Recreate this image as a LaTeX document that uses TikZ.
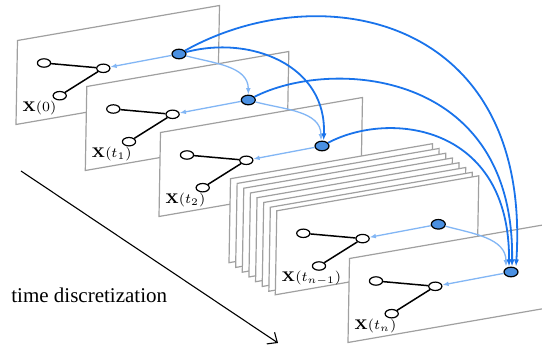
\documentclass[tikz,border=0pt]{standalone}
\usepackage[no-math]{fontspec}
\newfontfamily\timesfont{Liberation Serif}
\usetikzlibrary{arrows.meta,shapes.geometric}
\definecolor{panelgray}{RGB}{160,160,160}
\definecolor{nodeblue}{RGB}{74,144,226}
\definecolor{darkarc}{RGB}{25,115,235}
\definecolor{lightarc}{RGB}{130,182,245}
\tikzset{
 panel/.style={draw=panelgray, line width=0.6pt, fill=white, line join=miter},
 wnode/.style={ellipse, draw=black, fill=white, line width=0.6pt, minimum width=6.6pt, minimum height=4.2pt, inner sep=0pt},
 bnode/.style={ellipse, draw=black, fill=nodeblue, line width=0.6pt, minimum width=7pt, minimum height=4.8pt, inner sep=0pt},
 gedge/.style={line width=0.75pt, draw=black},
 lightarrow/.style={draw=lightarc, line width=0.65pt, -{Latex[length=3.2pt,width=2.4pt]}},
 darkarrow/.style={draw=darkarc, line width=0.9pt, -{Latex[length=3.6pt,width=2.6pt]}},
 lbl/.style={font=\fontsize{7.5}{9}\selectfont, inner sep=0pt, anchor=west},
 timearrow/.style={line width=0.55pt, draw=black, -{Straight Barb[length=4pt,width=7pt]}}
}
\newcommand{\drawpanel}[4]{%
 \begin{scope}[shift={(#2,-#3)}]
  \draw[panel] (0,0) -- (202,35) -- (200.5,-49) -- (-1.5,-84) -- cycle;
  \node[wnode] (a#1) at (26.5,-22.5) {};
  \node[wnode] (b#1) at (85.8,-27.8) {};
  \node[wnode] (c#1) at (42.2,-55.2) {};
  \node[bnode] (d#1) at (161.5,-13.5) {};
  \draw[gedge] (a#1) -- (b#1);
  \draw[gedge] (b#1) -- (c#1);
  \node[lbl] (l#1) at (4.5,-67.5) {$\mathbf{X}(#4)$};
 \end{scope}}
\begin{document}
\begin{tikzpicture}[x=0.5pt,y=0.5pt]
\useasboundingbox (0,0) rectangle (542,-347);
\clip (0,0) rectangle (542,-347);
\drawpanel{0}{17.5}{40.5}{0}
\drawpanel{1}{86.8}{86.5}{t_1}
\drawpanel{2}{160.5}{132.5}{t_2}
\foreach \i in {0,...,6} {
 \begin{scope}[shift={({230.5+6.64*\i},{-178.7-4.76*\i})}]
  \draw[panel] (0,0) -- (202,35) -- (200.5,-49) -- (-1.5,-84) -- cycle;
 \end{scope}
}
\drawpanel{3}{276.8}{210.8}{t_{n-1}}
\drawpanel{4}{349.5}{258.5}{t_n}
% time axis
\coordinate (ts) at (21,-171);
\coordinate (te) at (278,-343);
\draw[timearrow] (ts) -- (te);
\node[font=\timesfont\fontsize{10.5}{12}\selectfont, anchor=west, inner sep=0pt] (tlabel) at (11,-295) {time discretization};
% arrows inside panels
\foreach \k in {0,1,2,3,4} { \draw[lightarrow] (d\k) -- (b\k); }
% light arcs between consecutive states
\draw[lightarrow] (d0) to[out=-15,in=90] (d1.north);
\draw[lightarrow] (d1) to[out=-15,in=90] ([xshift=-0.5pt]d2.north);
\draw[lightarrow] (d3) to[out=-15,in=90] ([xshift=-2.5pt]d4.north);
% dark arcs
\draw[darkarrow] (d0) .. controls (250,-35) and (327,-65) .. ([xshift=0.8pt]d2.north);
\draw[darkarrow] (d0) .. controls (320,25) and (532,-15) .. ([xshift=2.5pt]d4.north);
\draw[darkarrow] (d1) .. controls (330,-58) and (515,-68) .. ([xshift=0.5pt]d4.north);
\draw[darkarrow] (d2) .. controls (390,-110) and (510,-125) .. ([xshift=-1pt]d4.north);
\end{tikzpicture}
\end{document}
